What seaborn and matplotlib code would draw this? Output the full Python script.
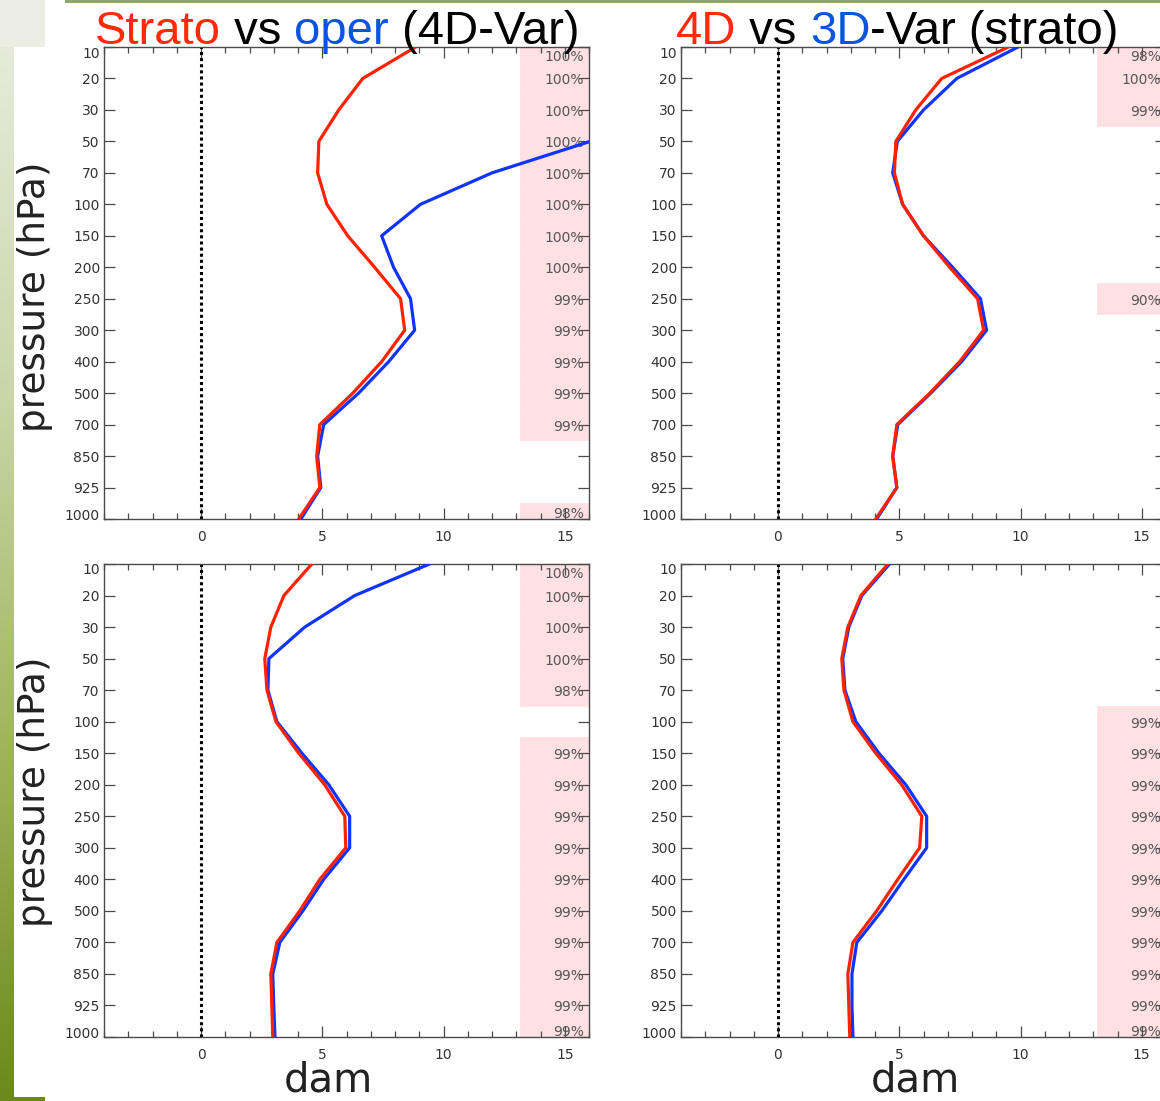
import numpy as np
import pandas as pd
import matplotlib
matplotlib.use("Agg")
import matplotlib.pyplot as plt
import matplotlib.transforms as mtransforms
from matplotlib.patches import Rectangle
from matplotlib.colors import LinearSegmentedColormap
from matplotlib.ticker import MultipleLocator
import seaborn as sns

# ---------------------------------------------------------------- data
levels = [10, 20, 30, 50, 70, 100, 150, 200, 250, 300, 400, 500, 700, 850, 925, 1000]

# upper left: Strato vs oper (4D-Var)
a_strato = [8.85, 6.67, 5.68, 4.86, 4.81, 5.19, 6.05, 7.16, 8.23, 8.40, 7.45, 6.26, 4.90, 4.77, 4.90, 4.03]
a_oper = [22.0, 20.0, 18.0, 16.05, 12.0, 9.05, 7.45, 7.94, 8.64, 8.81, 7.74, 6.50, 5.06, 4.81, 4.94, 4.12]
a_sig = ["100%"] * 8 + ["99%"] * 5 + [None, None, "98%"]

# upper right: 4D vs 3D-Var (strato)
b_4d = [9.50, 6.75, 5.68, 4.86, 4.80, 5.14, 6.00, 7.08, 8.23, 8.48, 7.49, 6.26, 4.90, 4.73, 4.90, 4.03]
b_3d = [9.90, 7.37, 6.00, 4.92, 4.73, 5.14, 6.00, 7.20, 8.35, 8.60, 7.57, 6.30, 4.94, 4.73, 4.90, 4.07]
b_sig = ["98%", "100%", "99%"] + [None] * 5 + ["90%"] + [None] * 7

# lower left
c_red = [4.57, 3.42, 2.88, 2.63, 2.72, 3.09, 4.03, 5.10, 5.93, 5.97, 4.90, 4.07, 3.13, 2.88, 2.92, 2.96]
c_blue = [9.42, 6.34, 4.28, 2.80, 2.76, 3.13, 4.16, 5.27, 6.13, 6.13, 5.06, 4.20, 3.25, 2.96, 3.00, 3.05]
c_sig = ["100%"] * 4 + ["98%", None] + ["99%"] * 10

# lower right
d_red = [4.53, 3.42, 2.88, 2.63, 2.72, 3.09, 4.03, 5.10, 5.93, 5.84, 4.94, 4.07, 3.09, 2.88, 2.92, 2.96]
d_blue = [4.60, 3.46, 2.92, 2.67, 2.76, 3.21, 4.16, 5.27, 6.13, 6.13, 5.19, 4.28, 3.25, 3.05, 3.05, 3.09]
d_sig = [None] * 5 + ["99%"] * 11

x_ticks = [0, 5, 10, 15]

# ---------------------------------------------------------------- style
RED = "#ff2200"
BLUE = "#1034ff"
T_RED = "#ff2a0a"
T_BLUE = "#0a55e0"
PINK = "#ffe1e3"
AXC = "#4a4a4a"
TXT = "#333333"

W, H = 1160, 1101
sns.set_theme(style="white")
plt.rcParams["font.family"] = ["DejaVu Sans"]

fig = plt.figure(figsize=(W / 100, H / 100), dpi=100)
fig.patch.set_facecolor("white")


def px_rect(l, t, r, b):
    return [l / W, 1 - b / H, (r - l) / W, (b - t) / H]


# frame decoration on the left and top edges
deco = fig.add_axes(px_rect(0, 47, 14, 1097))
grad = LinearSegmentedColormap.from_list("strip", ["#e6ebd9", "#c9d6a8", "#9fb55c", "#6b8a1c"])
deco.imshow(np.linspace(0, 1, 256).reshape(-1, 1), aspect="auto", cmap=grad,
            extent=(0, 1, 1, 0))
deco.set_axis_off()
fig.add_artist(Rectangle((0, 1 - 47 / H), 45 / W, 47 / H, transform=fig.transFigure,
                         facecolor="#eceee3", edgecolor="none", zorder=-1))
fig.add_artist(Rectangle((0, 0), 45 / W, 4 / H, transform=fig.transFigure,
                         facecolor="#6b8a1c", edgecolor="none"))
fig.add_artist(Rectangle((65 / W, 1 - 3 / H), (W - 65) / W, 3 / H, transform=fig.transFigure,
                         facecolor="#8ea66a", edgecolor="none"))

panels = [
    dict(rect=(104, 47, 589, 519), red=a_strato, blue=a_oper, sig=a_sig,
         title=[("Strato", T_RED), (" vs ", "black"), ("oper", T_BLUE), (" (4D-Var)", "black")],
         title_x=95, ylabel_y=297, xlabel_x=None),
    dict(rect=(681, 47, 1166, 519), red=b_4d, blue=b_3d, sig=b_sig,
         title=[("4D", T_RED), (" vs ", "black"), ("3D", T_BLUE), ("-Var (strato)", "black")],
         title_x=676, ylabel_y=None, xlabel_x=None),
    dict(rect=(104, 564, 589, 1037), red=c_red, blue=c_blue, sig=c_sig,
         title=None, ylabel_y=792, xlabel_x=328),
    dict(rect=(681, 564, 1166, 1037), red=d_red, blue=d_blue, sig=d_sig,
         title=None, ylabel_y=None, xlabel_x=915),
]

idx = np.arange(len(levels))
SIG_LEFT = 13.15
XMAX = 16.0
TITLE_FONT = dict(fontsize=34, family=["Liberation Sans"])

for p in panels:
    ax = fig.add_axes(px_rect(*p["rect"]))
    ax.set_facecolor("white")

    # significance shading per level
    sig_idx = [i for i, s in enumerate(p["sig"]) if s is not None]
    ax.barh(sig_idx, XMAX + 1 - SIG_LEFT, left=SIG_LEFT, height=1.0, color=PINK,
            edgecolor=PINK, linewidth=0.6, zorder=0)

    ax.axvline(0, color="black", ls=(0, (1, 1)), lw=2.2, zorder=1)

    df = pd.DataFrame({"value": p["blue"] + p["red"],
                       "level": list(idx) + list(idx),
                       "series": ["blue"] * len(idx) + ["red"] * len(idx)})
    sns.lineplot(data=df, x="value", y="level", hue="series", palette={"blue": BLUE, "red": RED},
                 sort=False, estimator=None, lw=2.3, legend=False, ax=ax, zorder=3)

    ax.set_xlim(-4, XMAX)
    ax.set_ylim(len(levels) - 1, 0)
    ax.set_xlabel("")
    ax.set_ylabel("")

    ax.set_xticks(x_ticks)
    ax.set_xticklabels([str(v) for v in x_ticks])
    ax.xaxis.set_minor_locator(MultipleLocator(1))
    ax.set_yticks(idx)
    ax.set_yticklabels([str(v) for v in levels])

    ax.tick_params(axis="x", which="major", direction="in", length=8, width=0.9, color=AXC,
                   top=True, bottom=True, labelsize=10, labelcolor=TXT, pad=8)
    ax.tick_params(axis="x", which="minor", direction="in", length=4.5, width=0.9, color=AXC,
                   top=True, bottom=True)
    ax.tick_params(axis="y", which="major", direction="in", length=8, width=0.9, color=AXC,
                   left=True, right=True, labelsize=10, labelcolor=TXT, pad=3)
    for sp in ax.spines.values():
        sp.set_color(AXC)
        sp.set_linewidth(1.0)
        sp.set_visible(True)

    # keep the end labels inside the axis span
    ylabels = ax.get_yticklabels()
    ylabels[0].set_transform(ylabels[0].get_transform() +
                             mtransforms.ScaledTranslation(0, -5 / 100, fig.dpi_scale_trans))
    ylabels[-1].set_transform(ylabels[-1].get_transform() +
                              mtransforms.ScaledTranslation(0, 4 / 100, fig.dpi_scale_trans))

    # percentage annotations
    blend = mtransforms.blended_transform_factory(ax.transAxes, ax.transData)
    n = len(levels)
    for i, s in enumerate(p["sig"]):
        if s is None:
            continue
        dy = -2
        if i == 0:
            dy = -10
        elif i == n - 1:
            dy = 5
        tr = blend + mtransforms.ScaledTranslation(0, dy / 100, fig.dpi_scale_trans)
        ax.text(1 - 5 / 485, i, s, transform=tr, ha="right", va="center",
                fontsize=10, color="#555555", zorder=2)

    if p["ylabel_y"] is not None:
        fig.text(35 / W, 1 - p["ylabel_y"] / H, "pressure (hPa)", rotation=90,
                 ha="center", va="center", fontsize=27, color="#222222")
    if p["xlabel_x"] is not None:
        fig.text(p["xlabel_x"] / W, 1 - 1081 / H, "dam",
                 ha="center", va="center", fontsize=29, color="#222222")

    # multi-coloured title, each piece anchored to the end of the previous one
    if p["title"]:
        prev = None
        for text, col in p["title"]:
            if prev is None:
                prev = fig.text(p["title_x"] / W, 1 - 44 / H, text, color=col,
                                va="baseline", ha="left", **TITLE_FONT)
            else:
                prev = ax.annotate(text, xy=(1, 0), xycoords=prev, color=col,
                                   va="bottom", ha="left", annotation_clip=False, **TITLE_FONT)

fig.savefig("out.png", dpi=100)
